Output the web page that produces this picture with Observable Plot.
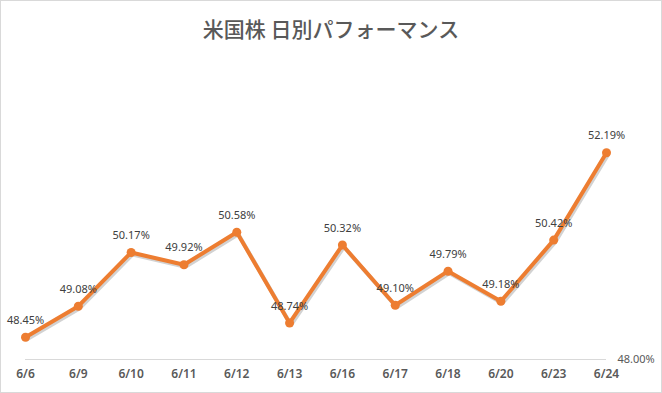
<!DOCTYPE html>
<html><head><meta charset="utf-8">
<script src="https://cdn.jsdelivr.net/npm/d3@7"></script>
<script src="https://cdn.jsdelivr.net/npm/@observablehq/plot@0.6"></script>
<style>
body{margin:0;background:#fff;}
#box{width:662px;height:393px;box-sizing:border-box;border:1px solid #d9d9d9;background:#fff;overflow:hidden;}
#title{height:50px;line-height:50px;padding-top:2px;box-sizing:border-box;text-align:center;font-family:"Noto Sans CJK JP",sans-serif;font-size:21px;font-weight:500;color:#595959;}
</style></head>
<body>
<div id="box"><div id="title">米国株 日別パフォーマンス</div><div id="chart"></div></div>
<script>
const dates = ["6/6","6/9","6/10","6/11","6/12","6/13","6/16","6/17","6/18","6/20","6/23","6/24"];
const values = [48.45, 49.08, 50.17, 49.92, 50.58, 48.74, 50.32, 49.10, 49.79, 49.18, 50.42, 52.19];
const yTicks = [48];

const data = dates.map((d, i) => ({date: d, value: values[i]}));

const chart = Plot.plot({
  width: 660,
  height: 341,
  marginLeft: 24,
  marginRight: 55,
  marginTop: 86,
  marginBottom: 33,
  style: {fontFamily: "'Noto Sans', sans-serif", background: "#fff"},
  x: {type: "point", domain: dates, padding: 0, round: false},
  y: {domain: [48, 52.5]},
  marks: [
    Plot.ruleY(yTicks, {stroke: "#d9d9d9", strokeWidth: 1}),
    Plot.axisX({tickSize: 0, tickPadding: 10, fontSize: 12, fontWeight: 600, fill: "#595959", label: null}),
    Plot.axisY(yTicks, {anchor: "right", tickSize: 0, tickPadding: 11, fontSize: 11, fill: "#595959", label: null, tickFormat: d => d.toFixed(2) + "%"}),
    Plot.line(data, {x: "date", y: "value", stroke: "#7f7f7f", strokeOpacity: 0.35, strokeWidth: 4, dx: 1.5, dy: 2, strokeLinejoin: "round"}),
    Plot.line(data, {x: "date", y: "value", stroke: "#ED7D31", strokeWidth: 4, strokeLinejoin: "round", strokeLinecap: "round"}),
    Plot.dot(data, {x: "date", y: "value", r: 4.5, fill: "#ED7D31", stroke: "none"}),
    Plot.text(data, {x: "date", y: "value", text: d => d.value.toFixed(2) + "%", dy: -17, fontSize: 11, fill: "#404040"})
  ]
});
document.getElementById("chart").appendChild(chart);
</script>
</body></html>
